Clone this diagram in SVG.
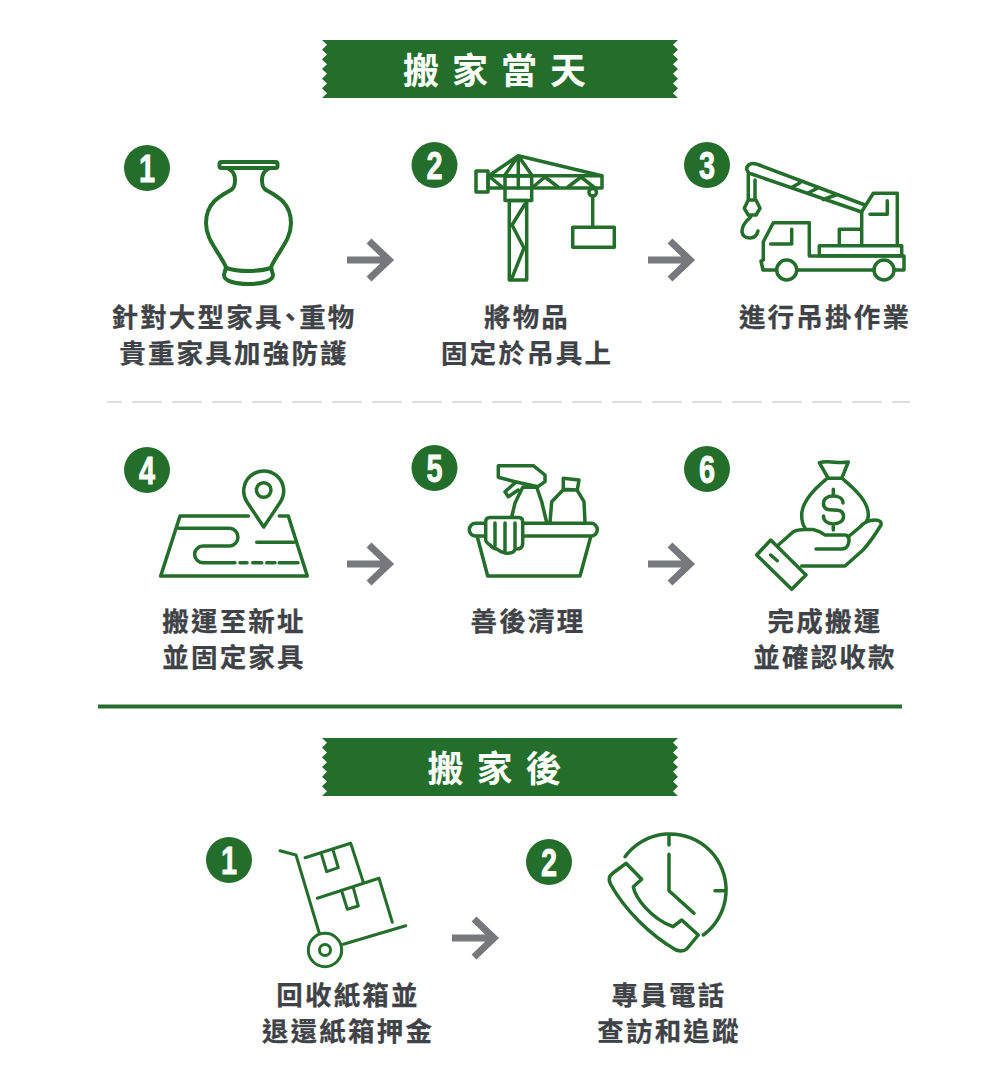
<svg xmlns="http://www.w3.org/2000/svg" width="1000" height="1091" viewBox="0 0 1000 1091">
<style>
text{font-family:"Noto Sans CJK TC","Noto Sans CJK SC",sans-serif}
.l{font-size:26.500px;font-weight:700;letter-spacing:2.200px;fill:#3f4347;stroke:#3f4347;stroke-width:.25;text-anchor:middle}
.p{font-feature-settings:"palt"}
.h{font-size:36px;font-weight:700;letter-spacing:13px;fill:#fff;text-anchor:middle}
.n{font-family:"Liberation Sans",Arial,sans-serif;font-size:38px;font-weight:700;fill:#fff;stroke:#fff;stroke-width:.8;text-anchor:middle}
.i{fill:none;stroke:#236e2b;stroke-width:3.500;stroke-linejoin:round;stroke-linecap:round}
.t{stroke-width:3}
.v{stroke-width:4}
.a{fill:none;stroke:#77787b;stroke-width:7}
.c{fill:#236e2b}
.b{fill:#236e2b}
</style>
<defs>
<path id="arrow" class="a" d="M0,0H42M22,-19L42,0L22,19"/>
<path id="ban" class="b" d="M322,0H678L673,4.8L678,9.7L673,14.5L678,19.3L673,24.2L678,29L673,33.8L678,38.7L673,43.5L678,48.3L673,53.2L678,58H322L327,53.2L322,48.3L327,43.5L322,38.7L327,33.8L322,29L327,24.2L322,19.3L327,14.5L322,9.7L327,4.8Z"/>
</defs>
<rect width="1000" height="1091" fill="#fff"/>

<g id="header-1"><use href="#ban" y="40"/><text class="h" x="501" y="84">搬家當天</text></g>

<g id="step-1">
<circle class="c" cx="147" cy="168" r="23"/><text class="n" transform="translate(147,181.500) scale(.76,1)">1</text>
<g class="i v"><rect x="219.500" y="162" width="58" height="6" rx="2"/>
<path d="M229,169C233,171 235,175 235,180C235,186 234,188 231,190C220,196 206,203 206,223C206,240 218,250 226,267L224,275C224,281 235,284 248.500,284C262,284 273,281 273,275L271,267C279,250 291,240 291,223C291,203 277,196 266,190C263,188 262,186 262,180C262,175 264,171 268,169"/>
<path d="M226,268C238,272 259,272 271,268"/></g>
<text class="l"><tspan x="234" y="327">針對大型家具<tspan class="p">、</tspan>重物</tspan><tspan x="234" y="363">貴重家具加強防護</tspan></text>
</g>

<g id="step-2">
<circle class="c" cx="434.500" cy="165" r="23"/><text class="n" transform="translate(434.500,178.500) scale(.76,1)">2</text>
<g class="i"><rect x="476" y="171" width="12" height="21"/><rect x="488" y="175.700" width="114" height="12.300"/><rect x="505" y="176" width="26.700" height="24.500"/><rect x="509.300" y="200.500" width="17.400" height="79.500"/>
<path d="M525,204L512,225L524,248L512,278M490,175L518.300,155.700L601.700,175.700M505,175L518.300,155.700L531.700,175M518.300,156V188M490,177L502,187M533,187L545,177L558,187M568,187L581,177L595,188"/>
<circle cx="592.700" cy="192.300" r="3.800"/><path d="M592.700,196V227"/><rect x="572.700" y="227.300" width="41.600" height="20"/></g>
<text class="l"><tspan x="527" y="327">將物品</tspan><tspan x="527" y="363">固定於吊具上</tspan></text>
</g>

<g id="step-3">
<circle class="c" cx="707" cy="165" r="23"/><text class="n" transform="translate(707,178.500) scale(.76,1)">3</text>
<g class="i"><path d="M758,164.500L865,205M751.700,174L861.700,212M756,164C750,162 746,166 747,170C748,173 750,174 752,174M793,186.700L800,182.700M808,193L818,188M823,199.500L836,195M748.300,174V200M755,180V198"/>
<path d="M748.300,200H756L760,208.300L756,215H748.300L744.300,208.300Z"/>
<path d="M750.700,217C745,222 742,226 742,231C742,236 746,238 750,238C754,238 757,235 758,231"/>
<path d="M763.300,260V241.700L773.300,222.700H809.300V256H904V270H894M874,270H797M776.500,270H763L761,261L763.300,260"/>
<circle cx="786.700" cy="270" r="10"/><circle cx="884" cy="270" r="10"/>
<rect x="819.300" y="245.700" width="82.400" height="10"/>
<path d="M770.700,244H791.700V229.300M839.300,245V229.300H861.700M861.700,245V211.700L873.300,193.300H897.300V245M870,214.300H887.300V200.700"/></g>
<text class="l" x="825" y="327">進行吊掛作業</text>
</g>

<path id="divider" d="M107,402H910" stroke="#bdbdbd" stroke-width="1.200" stroke-dasharray="30 10" stroke-dashoffset="15" fill="none"/>

<g id="step-4">
<circle class="c" cx="147" cy="470" r="23"/><text class="n" transform="translate(147,483.500) scale(.76,1)">4</text>
<g class="i"><path d="M263.700,527L247,502A20,20 0 1 1 280.400,502Z"/><circle cx="263.700" cy="490" r="7.300"/>
<path d="M248.300,516H180L160.700,576H307.300L288.300,516H279.300"/>
<path d="M178.300,528.300H230A8.900,8.900 0 0 1 230,546H203A8.300,8.300 0 0 0 203,562.700H235M240,562.700H247M252.700,562.700H261.700M266.700,562.700H275M279.300,562.700H298M256.700,542.300H294"/></g>
<text class="l"><tspan x="234" y="631">搬運至新址</tspan><tspan x="234" y="667">並固定家具</tspan></text>
</g>

<g id="step-5">
<circle class="c" cx="434.500" cy="468" r="23"/><text class="n" transform="translate(434.500,481.500) scale(.76,1)">5</text>
<g class="i"><path d="M498.300,465.700H533.300L545,475V481.700L538,486.700L515,481.700L498.300,477.300Z"/>
<path d="M516,482L505,491.700L508.300,496.700L518.300,490"/>
<path d="M522.700,487.300H536.700L541.700,501.700L546.700,522.700M522.700,487.300L515,503L511.700,517"/>
<path d="M563.300,478.300L579,480L577.300,490L563.300,489.300ZM550,522.700L551.700,501.700L563,490H577L584,501.700L585,522.700"/>
<rect x="469.300" y="523.300" width="128" height="12.700" rx="6.300"/>
<path d="M477.300,536.700L487.700,576H580L590.700,536.700"/>
<path fill="#fff" d="M485.700,522Q485.700,517.500 490,517.500H518.700Q522.700,517.500 522.700,522V543Q522.700,550 515,549Q514,554 505,553Q500,552 497,549Q493,549 490,545Q485.700,542 485.700,540Z"/>
<path d="M495,523V546M505,523V551M515,523V547"/></g>
<text class="l" x="528" y="631">善後清理</text>
</g>

<g id="step-6">
<circle class="c" cx="707" cy="469" r="23"/><text class="n" transform="translate(707,482.500) scale(.76,1)">6</text>
<g class="i"><path d="M819.300,462.700C829,460 838,464 848.300,462L841.700,478.300H828.300Z"/>
<path d="M826,479.300C813,490 801.700,502 801.700,515C801.700,520 802,524 805,528M843.300,479.300C856,490 868.300,502 868.300,515C868.300,518 868,520 866,522"/>
<path d="M843,503C843,498 838,496 833.300,496C827,496 823.500,499 823.500,503.500C823.500,516 843.500,504 843.500,516.500C843.500,521 839,524 833.300,524C828,524 823.500,521 823.500,516M833.300,489.300V495M833.300,525V530"/>
<path d="M778.300,545L793,532Q797,529.500 805,529.500H813Q820,531 825,535H845Q849,535 849,541Q848,549 842,549H816"/>
<path d="M848,537L860,527Q866,520 875,520Q882,520 881,525Q872,540 863,550L845,566H801.700"/>
<path d="M756.700,555L770.700,540L806,575L791.700,589.300ZM770.700,555L777.300,560.700"/></g>
<text class="l"><tspan x="825" y="631">完成搬運</tspan><tspan x="825" y="667">並確認收款</tspan></text>
</g>

<path id="rule" d="M98,706.500H902" stroke="#236e2b" stroke-width="4" fill="none"/>

<g id="header-2"><use href="#ban" y="738"/><text class="h" x="501" y="782">搬家後</text></g>

<g id="after-1">
<circle class="c" cx="229" cy="860" r="23"/><text class="n" transform="translate(229,873.500) scale(.76,1)">1</text>
<g class="i t"><path d="M280,850.700L296,855L319.300,933.300"/><circle cx="325" cy="950" r="16.700"/><circle cx="325" cy="950" r="5.500"/>
<path d="M343.300,944.300L405.700,925.700M305,857.700L350.700,843.300L363.300,882.300M321.700,855L326.700,871.700L338.300,867.700L333.300,851M317.300,898.300L379,878.300L392.300,922.300M341.700,891L347.300,909.300L358.300,906L353.300,887.700"/></g>
<text class="l"><tspan x="348" y="1005">回收紙箱並</tspan><tspan x="348" y="1041">退還紙箱押金</tspan></text>
</g>

<g id="after-2">
<circle class="c" cx="549" cy="862" r="23"/><text class="n" transform="translate(549,875.500) scale(.76,1)">2</text>
<g class="i"><path d="M625,856.700A56,56 0 1 1 703.300,935M669,836.700V845M715,890.700H725M669,854.300V890.700L694,913.300"/>
<path d="M626,863.300L641.700,879.300L633.300,886.700C635,897 650,918 673,926.700L681.700,920L698.300,935L686.700,949C683,952 679,951 676,950C650,935 625,910 611,885C608,880 609,876 613,873Z"/></g>
<text class="l"><tspan x="669" y="1005">專員電話</tspan><tspan x="669" y="1041">查訪和追蹤</tspan></text>
</g>

<g id="connectors">
<use href="#arrow" x="347" y="260"/><use href="#arrow" x="648" y="260"/>
<use href="#arrow" x="347" y="564"/><use href="#arrow" x="648" y="564"/>
<use href="#arrow" x="452" y="938"/>
</g>
</svg>
